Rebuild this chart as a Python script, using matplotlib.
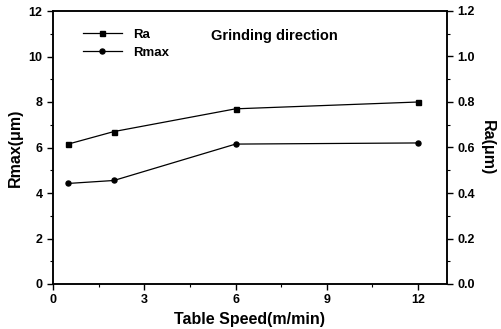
import matplotlib
matplotlib.use('Agg')
import matplotlib.pyplot as plt
from matplotlib.ticker import MultipleLocator

plt.rcParams['font.family'] = ['Liberation Sans', 'DejaVu Sans']
plt.rcParams['font.weight'] = 'bold'

# data
speed = [0.5, 2, 6, 12]
ra = [0.615, 0.67, 0.77, 0.80]        # right axis
rmax = [4.42, 4.55, 6.15, 6.2]        # left axis

fig = plt.figure(figsize=(5.01, 3.29), dpi=100)
ax = fig.add_axes([53 / 501, 1 - 284 / 329, 394 / 501, 273 / 329])
ax2 = ax.twinx()

ax2.plot(speed, ra, color='black', lw=0.9, marker='s', ms=3.6, label='Ra')
ax.plot(speed, rmax, color='black', lw=0.9, marker='o', ms=3.6, label='Rmax')

ax.set_xlim(0, 12.95)
ax.set_ylim(0, 12)
ax2.set_ylim(0, 1.2)

ax.xaxis.set_major_locator(MultipleLocator(3))
ax.xaxis.set_minor_locator(MultipleLocator(1.5))
ax.yaxis.set_major_locator(MultipleLocator(2))
ax.yaxis.set_minor_locator(MultipleLocator(1))
ax2.yaxis.set_major_locator(MultipleLocator(0.2))
ax2.yaxis.set_minor_locator(MultipleLocator(0.1))
ax2.yaxis.set_major_formatter(plt.FormatStrFormatter('%.1f'))

for a in (ax, ax2):
    a.tick_params(which='major', direction='out', length=4, width=1, labelsize=9)
    a.tick_params(which='minor', direction='out', length=2, width=0.8)
    for s in a.spines.values():
        s.set_linewidth(1.1)

ax.set_xlabel('Table Speed(m/min)', fontsize=11.5, fontweight='bold')
ax.set_ylabel('Rmax(μm)', fontsize=11.5, fontweight='bold')
ax2.set_ylabel('Ra(μm)', fontsize=11.5, fontweight='bold', rotation=270, labelpad=14)

h1, l1 = ax2.get_legend_handles_labels()
h2, l2 = ax.get_legend_handles_labels()
ax.legend(h1 + h2, l1 + l2, loc='upper left', frameon=False, fontsize=9.5,
          bbox_to_anchor=(0.045, 0.98), handlelength=3, labelspacing=0.45)

ax.text(0.40, 0.91, 'Grinding direction', transform=ax.transAxes,
        fontsize=10.5, fontweight='bold', va='center')

fig.savefig('out.png', dpi=100)
